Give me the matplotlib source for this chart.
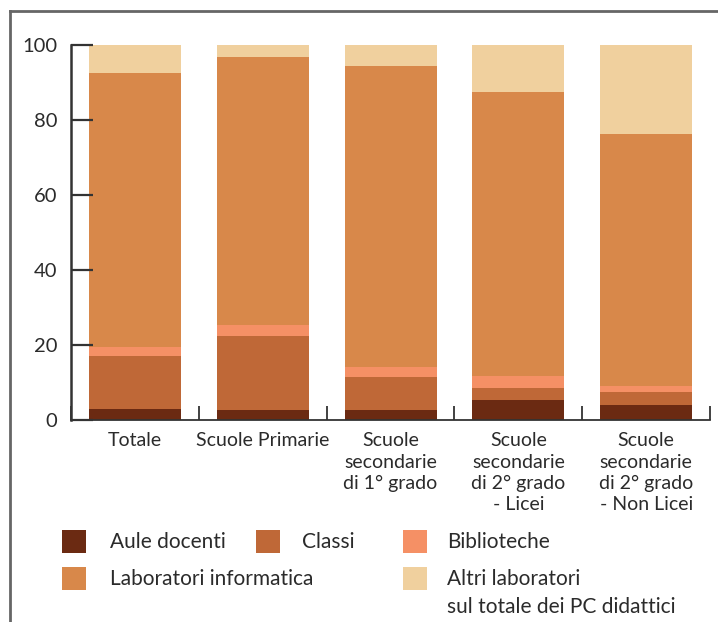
import numpy as np
import matplotlib
matplotlib.use("Agg")
import matplotlib.pyplot as plt
from matplotlib.patches import Rectangle

plt.rcParams['font.family'] = ['Lato', 'DejaVu Sans']

# Data (percent of teaching PCs)
categories = ["Totale", "Scuole Primarie", "Scuole\nsecondarie\ndi 1° grado",
              "Scuole\nsecondarie\ndi 2° grado\n- Licei",
              "Scuole\nsecondarie\ndi 2° grado\n- Non Licei"]
aule_docenti = [3.0, 2.7, 2.7, 5.3, 4.0]
classi = [14.1, 19.7, 8.8, 3.2, 3.5]
biblioteche = [2.4, 2.9, 2.6, 3.2, 1.6]
lab_informatica = [72.9, 71.4, 80.2, 75.7, 67.1]
altri_lab = [7.6, 3.3, 5.7, 12.6, 23.8]

series = [aule_docenti, classi, biblioteche, lab_informatica, altri_lab]
names = ["Aule docenti", "Classi", "Biblioteche", "Laboratori informatica",
         "Altri laboratori\nsul totale dei PC didattici"]
colors = ["#6B2A12", "#BF6837", "#F59065", "#D8884A", "#F0D09E"]

text_col = "#2b2b2b"

fig = plt.figure(figsize=(7.18, 6.22), dpi=100)
ax = fig.add_axes([0.0989, 0.3248, 0.8901, 0.6029])

x = np.arange(len(categories))
bottom = np.zeros(len(categories))
for vals, c in zip(series, colors):
    ax.bar(x, vals, width=0.72, bottom=bottom, color=c, linewidth=0)
    bottom += np.array(vals)

ax.set_xlim(-0.5, 4.5)
ax.set_ylim(0, 100)
ax.set_yticks(range(0, 101, 20))
ax.set_xticks(x)
ax.set_xticklabels(categories, linespacing=1.3)
ax.set_xticks(np.arange(-0.5, 5, 1), minor=True)
ax.tick_params(axis='x', which='major', length=0, pad=9, labelsize=14, colors=text_col)
ax.tick_params(axis='x', which='minor', direction='in', length=10, width=1.3, color="#333333")
ax.tick_params(axis='y', direction='in', length=16, width=1.6, pad=10, labelsize=14.5,
               colors=text_col, color="#333333")
for s in ['top', 'right']:
    ax.spines[s].set_visible(False)
ax.spines['left'].set_linewidth(1.8)
ax.spines['left'].set_color("#333333")
ax.spines['bottom'].set_linewidth(1.3)
ax.spines['bottom'].set_color("#333333")

# frame lines (top and left) of the figure box
fig.add_artist(plt.Line2D([10 / 718, 1], [1 - 11 / 622, 1 - 11 / 622],
                          transform=fig.transFigure, color="#666666", lw=2))
fig.add_artist(plt.Line2D([10 / 718, 10 / 718], [0, 1 - 11 / 622],
                          transform=fig.transFigure, color="#666666", lw=2))

# legend drawn by hand
W, H = 718, 622
legend_pos = [(62, 530, 110), (256, 530, 302), (403, 530, 447),
              (62, 567, 110), (403, 567, 447)]
for (sx, sy, tx), name, c in zip(legend_pos, names, colors):
    fig.add_artist(Rectangle((sx / W, 1 - (sy + 23) / H), 24 / W, 23 / H,
                             transform=fig.transFigure, color=c, lw=0))
    fig.text(tx / W, 1 - (sy + 2) / H, name, ha='left', va='top', fontsize=15,
             color=text_col, linespacing=1.5)

fig.savefig("out.png", dpi=100)
